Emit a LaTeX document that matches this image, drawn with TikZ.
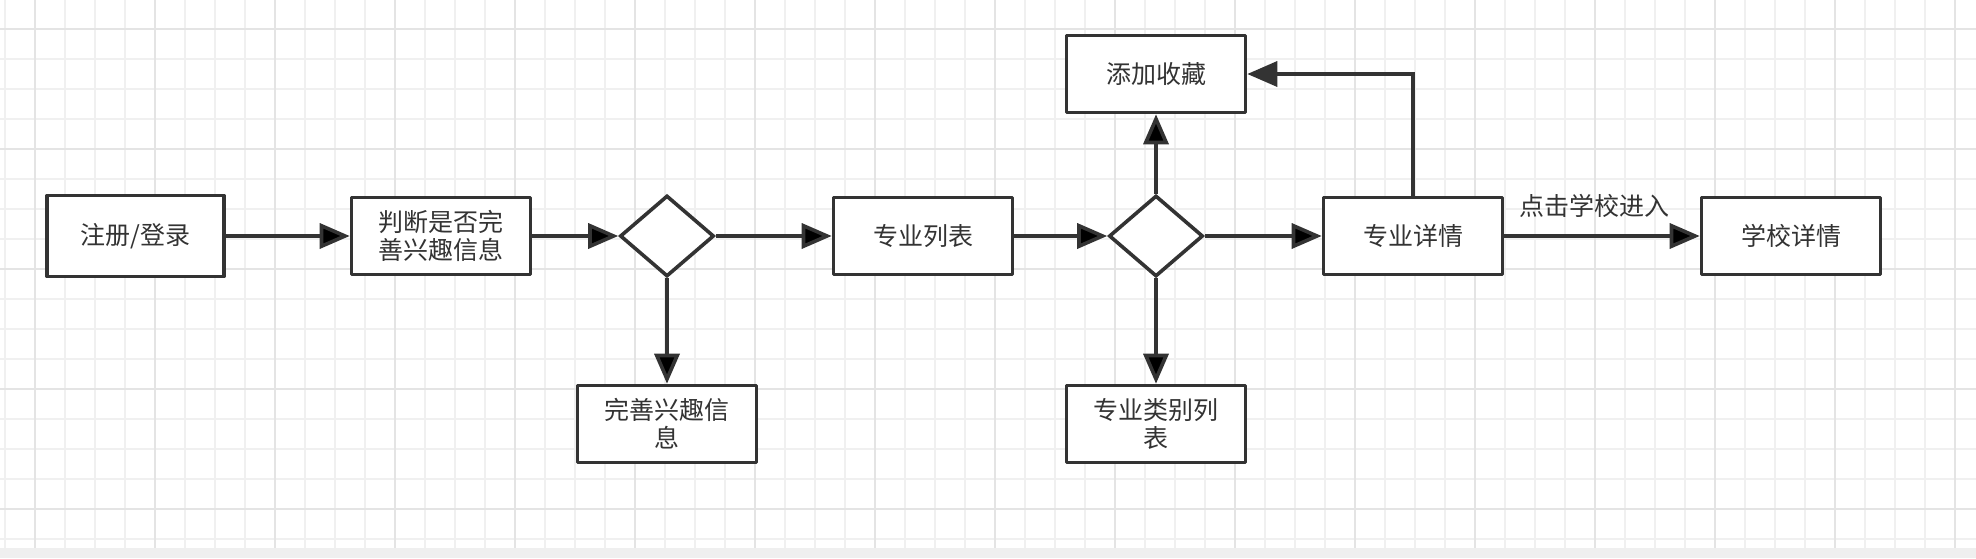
\documentclass[tikz,border=0pt]{standalone}
\usepackage{fontspec}
\newfontfamily\cjk{Noto Sans CJK SC}
\usetikzlibrary{arrows.meta,shapes.geometric}
\definecolor{flowgray}{HTML}{333333}
\definecolor{gridminor}{HTML}{F0F0F0}
\definecolor{gridmajor}{HTML}{E4E4E4}
\definecolor{barbg}{HTML}{EFEFEF}

\begin{document}
\begin{tikzpicture}[
    x=0.5pt, y=-0.5pt,
    normal line/.style={-{Stealth[length=15pt,width=12.5pt,inset=0pt]}, draw=flowgray, line width=1.8pt},
    flow box/.style={draw=flowgray, line width=1.8pt, line join=round, fill=white, minimum width=89.5pt, minimum height=38.5pt, inner sep=0pt, align=center, font=\fontsize{12.5pt}{14pt}\cjk, text=flowgray},
    flow choice/.style={diamond, draw=flowgray, line width=1.8pt, fill=white, minimum width=47pt, minimum height=40.5pt, inner sep=0pt},
    label text/.style={above=8.5pt, inner sep=0pt, xshift=-4pt, font=\fontsize{12.5pt}{14pt}\cjk, text=flowgray},
    node distance=3cm,
]
% grid paper
\useasboundingbox (0,0) rectangle (1976,558);
\fill[white] (0,0) rectangle (1976,548);
\fill[barbg] (0,548) rectangle (1976,558);
\foreach \x in {5,35,...,1975}
    \draw[gridminor, line width=0.8pt] (\x,0) -- (\x,548);
\foreach \y in {29,59,...,539}
    \draw[gridminor, line width=0.8pt] (0,\y) -- (1976,\y);
\foreach \x in {35,155,...,1955}
    \draw[gridmajor, line width=1pt] (\x,0) -- (\x,548);
\foreach \y in {29,149,...,509}
    \draw[gridmajor, line width=1pt] (0,\y) -- (1976,\y);

\node[flow box, minimum height=40.5pt, minimum width=88.5pt] (m-1-1) at (135.5,236) {注册/登录};
\node[flow box, right of=m-1-1, node distance=152.75pt] (m-1-2) {判断是否完\\善兴趣信息};
\node[flow choice, right of=m-1-2, node distance=113pt] (m-1-3) {};
\node[flow box, right of=m-1-3, node distance=128pt] (m-1-4) {专业列表};
\node[flow choice, right of=m-1-4, node distance=116.5pt] (m-1-5) {};
\node[flow box, right of=m-1-5, node distance=128.5pt] (m-1-6) {专业详情};
\node[flow box, right of=m-1-6, node distance=189pt] (m-1-7) {学校详情};
\node[flow box, above of=m-1-5, node distance=81pt] (m-0-5) {添加收藏};
\node[flow box, below of=m-1-3, node distance=94pt] (m-2-3) {完善兴趣信\\息};
\node[flow box, below of=m-1-5, node distance=94pt] (m-2-5) {专业类别列\\表};
    \path[normal line]
        (m-1-1) edge (m-1-2)
        (m-1-2) edge (m-1-3)
        (m-1-3) edge (m-1-4)
        (m-1-4) edge (m-1-5)
        (m-1-5) edge (m-1-6)
        (m-1-6) edge node[label text] {点击学校进入} (m-1-7)
        (m-1-3) edge (m-2-3)
        (m-1-5) edge (m-0-5)
        (m-1-5) edge (m-2-5)
;
\draw[normal line] (m-1-6.north) |- (m-0-5.east);
\end{tikzpicture}
\end{document}
